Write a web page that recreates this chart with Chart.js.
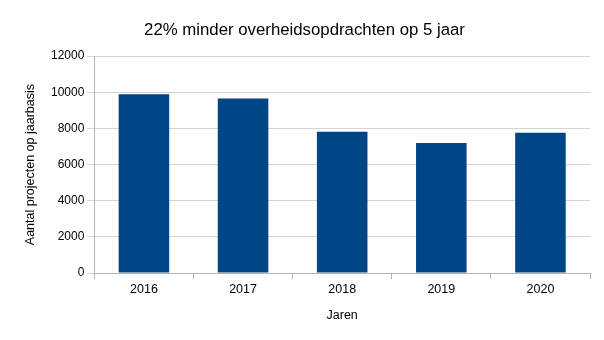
<!DOCTYPE html>
<html><head><meta charset="utf-8">
<script src="https://cdn.jsdelivr.net/npm/chart.js@4/dist/chart.umd.min.js"></script>
<style>html,body{margin:0;padding:0;background:#fff}#wrap{width:604px;height:340px}</style>
</head><body><div id="wrap"><canvas id="c" width="604" height="340"></canvas></div>
<script>
const categories = ['2016','2017','2018','2019','2020'];
const values = [9890, 9650, 7820, 7200, 7760];
const yTicks = [0,2000,4000,6000,8000,10000,12000];
const titleText = '22% minder overheidsopdrachten op 5 jaar';
const xTitle = 'Jaren';
const yTitle = 'Aantal projecten op jaarbasis';

Chart.defaults.font.family = '"Liberation Sans", Arial, sans-serif';
Chart.defaults.color = '#000';
new Chart(document.getElementById('c'), {
  type: 'bar',
  data: { labels: categories, datasets: [{ data: values, backgroundColor: '#004586', barPercentage: 0.51, categoryPercentage: 1.0 }] },
  options: {
    responsive: false, animation: false,
    layout: { padding: { left: 19, right: 14, top: 6, bottom: 13 } },
    plugins: {
      legend: { display: false }, tooltip: { enabled: false },
      title: { display: true, text: titleText, font: { size: 16.8, weight: 'normal' }, color: '#000', padding: { top: 14, bottom: 16 } }
    },
    scales: {
      x: {
        grid: { display: true, drawOnChartArea: false, color: '#b3b3b3', tickLength: 6, offset: true },
        border: { color: '#b3b3b3' },
        ticks: { font: { size: 12.5 }, color: '#000', padding: 3 },
        title: { display: true, text: xTitle, font: { size: 12.5 }, color: '#000', padding: { top: 8 } }
      },
      y: {
        min: 0, max: 12000,
        afterBuildTicks: (s) => { s.ticks = yTicks.map(v => ({ value: v })); },
        grid: { color: '#d4d4d4', tickLength: 7 },
        border: { color: '#b3b3b3' },
        ticks: { font: { size: 12 }, color: '#000', padding: 3, callback: (v) => String(v) },
        title: { display: true, text: yTitle, font: { size: 12.5 }, color: '#000', padding: { bottom: 10 } }
      }
    }
  }
});
</script></body></html>
